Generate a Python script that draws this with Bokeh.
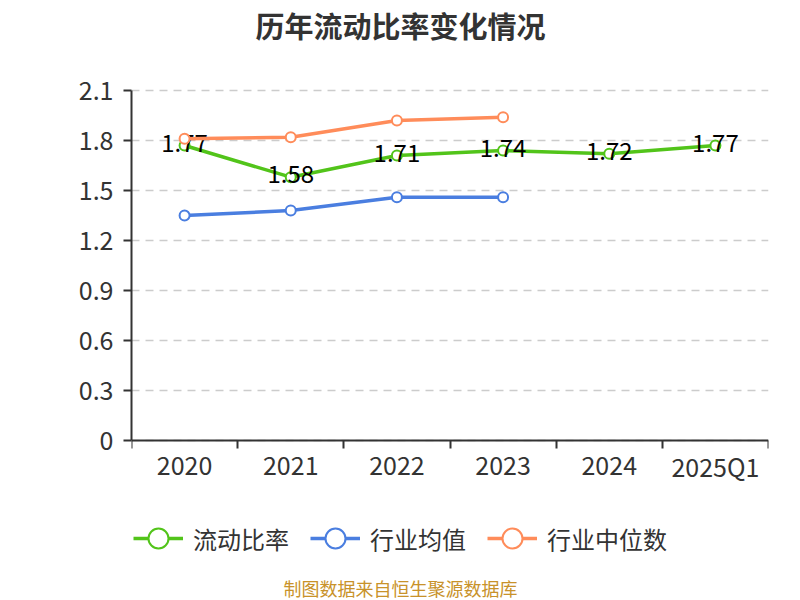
from bokeh.plotting import figure
from bokeh.models import (FactorRange, Range1d, LinearAxis, FixedTicker,
                          Legend, LegendItem, Grid, Label)
from bokeh.core.properties import value
from bokeh.embed import file_html
from bokeh.resources import INLINE

# ---------------- data ----------------
categories = ["2020", "2021", "2022", "2023", "2024", "2025Q1"]
current_ratio = [1.77, 1.58, 1.71, 1.74, 1.72, 1.77]
industry_categories = ["2020", "2021", "2022", "2023"]
industry_avg = [1.35, 1.38, 1.46, 1.46]
industry_median = [1.81, 1.82, 1.92, 1.94]
y_ticks = [0, 0.3, 0.6, 0.9, 1.2, 1.5, 1.8, 2.1]
y_tick_labels = ["0", "0.3", "0.6", "0.9", "1.2", "1.5", "1.8", "2.1"]
series_names = ["流动比率", "行业均值", "行业中位数"]
title_text = "历年流动比率变化情况"
source_text = "制图数据来自恒生聚源数据库"

GREEN = "#52c41a"
BLUE = "#4a7ee0"
ORANGE = "#ff8c5a"
FONT_NAME = "Noto Sans CJK SC"
FONT = value(FONT_NAME)

# frame spans the whole canvas height so that the annotations are not clipped;
# the value axis is drawn only over 0..2.1
p = figure(width=800, height=600,
           x_range=FactorRange(*categories), y_range=Range1d(-0.96, 2.64),
           output_backend="svg", toolbar_location=None,
           x_axis_location=None, y_axis_location=None,
           min_border_left=131, min_border_right=32,
           min_border_top=0, min_border_bottom=0,
           outline_line_color=None)
p.center = [r for r in p.center if not isinstance(r, Grid)]
p.title.text = ""
p.title.visible = False

# grid
grid = Grid(dimension=1, ticker=FixedTicker(ticks=y_ticks),
            grid_line_color="#cccccc", grid_line_width=1.5, grid_line_dash="8 6")
p.add_layout(grid, "center")

# y axis
yaxis = LinearAxis(ticker=FixedTicker(ticks=y_ticks), bounds=(0, 2.1),
                   major_label_overrides={t: l for t, l in zip(y_ticks, y_tick_labels)},
                   axis_line_color="#333333", axis_line_width=2,
                   major_tick_line_color="#333333", major_tick_line_width=2,
                   major_tick_out=8, major_tick_in=0, minor_tick_out=0, minor_tick_in=0,
                   major_label_standoff=10,
                   major_label_text_font=FONT_NAME, major_label_text_font_size="25px",
                   major_label_text_color="#333333")
p.add_layout(yaxis, "left")

# x axis line at y=0 with tick marks at the category boundaries (pointing down)
tick_axis = LinearAxis(ticker=FixedTicker(ticks=list(range(len(categories) + 1))),
                       fixed_location=0,
                       axis_line_color="#333333", axis_line_width=2,
                       major_tick_line_color="#333333", major_tick_line_width=2,
                       major_tick_out=0, major_tick_in=8, minor_tick_out=0, minor_tick_in=0,
                       major_label_text_font_size="0px", major_label_standoff=0,
                       major_label_text_alpha=0)
p.add_layout(tick_axis, "above")

# category labels under the axis
p.text(x=categories, y=0, text=categories, y_offset=25,
       text_align="center", text_baseline="middle",
       text_font=FONT, text_font_size="25px", text_color="#333333")

# series
g_line = p.line(categories, current_ratio, line_width=3.5, line_color=GREEN)
g_pts = p.scatter(categories, current_ratio, size=10, fill_color="white",
                  line_color=GREEN, line_width=2)
p.text(x=categories, y=current_ratio, text=[f"{v:.2f}" for v in current_ratio],
       text_align="center", text_baseline="middle", y_offset=-3,
       text_font=FONT, text_font_size="24px", text_color="#000000")

b_line = p.line(industry_categories, industry_avg, line_width=3.5, line_color=BLUE)
b_pts = p.scatter(industry_categories, industry_avg, size=10, fill_color="white",
                  line_color=BLUE, line_width=2)

o_line = p.line(industry_categories, industry_median, line_width=3.5, line_color=ORANGE)
o_pts = p.scatter(industry_categories, industry_median, size=10, fill_color="white",
                  line_color=ORANGE, line_width=2)

legend = Legend(items=[LegendItem(label=series_names[0], renderers=[g_line, g_pts]),
                       LegendItem(label=series_names[1], renderers=[b_line, b_pts]),
                       LegendItem(label=series_names[2], renderers=[o_line, o_pts])],
                orientation="horizontal", location=(2, 36),
                glyph_width=50, glyph_height=52, label_standoff=10, spacing=21,
                padding=0, margin=0, border_line_color=None, background_fill_alpha=0,
                label_text_font=FONT_NAME, label_text_font_size="24px",
                label_text_color="#333333")
p.add_layout(legend, "center")

title = Label(x=269, y=576, x_units="screen", y_units="screen", text=title_text,
              text_align="center", text_baseline="middle", text_font=FONT_NAME,
              text_font_size="29px", text_font_style="bold", text_color="#333333")
p.add_layout(title)

source = Label(x=269, y=13, x_units="screen", y_units="screen", text=source_text,
               text_align="center", text_baseline="middle", text_font=FONT_NAME,
               text_font_size="18px", text_color="#c8922a")
p.add_layout(source)

open("out.html", "w").write(file_html(p, INLINE))
